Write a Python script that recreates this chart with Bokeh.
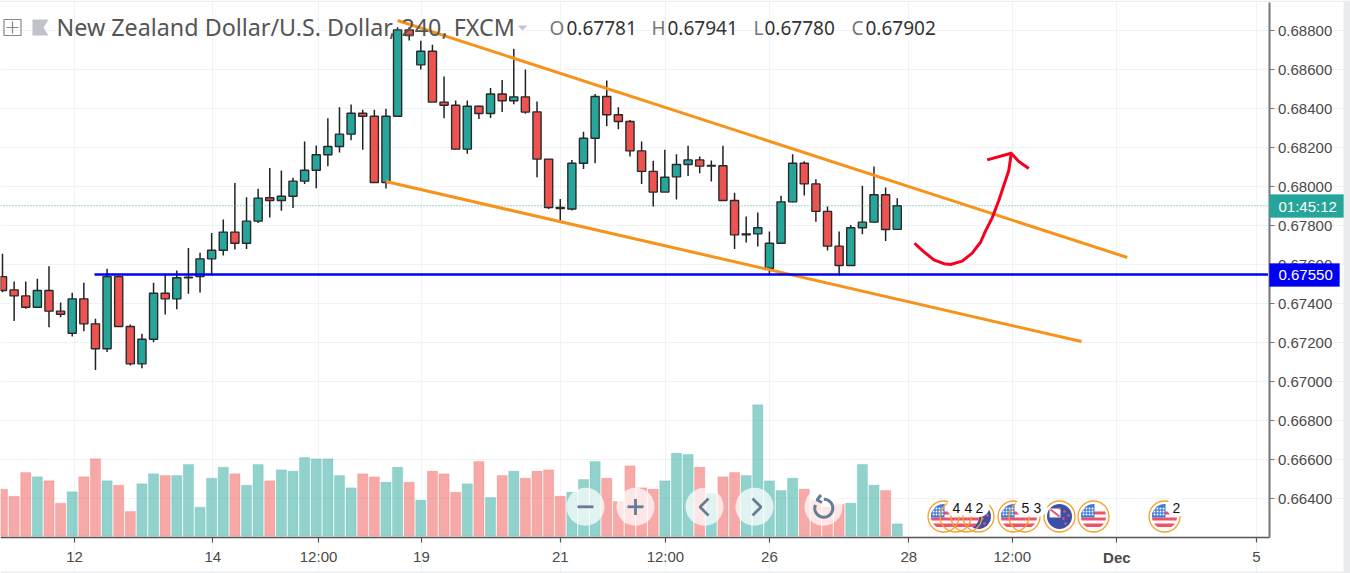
import numpy as np
from bokeh.embed import file_html
from bokeh.resources import INLINE
from bokeh.plotting import figure
from bokeh.models import Range1d, FixedTicker, Label, BoxAnnotation

# ---------- data ----------
opens = [.67539,.67471,.67440,.67382,.67468,.67362,.67249,.67425,.67297,.67169,.67539,.67283,.67092,.67218,.67454,.67425,.67533,.67539,.67630,.67674,
         .67767,.67710,.67823,.67943,.67929,.67951,.68028,.68084,.68163,.68206,.68269,.68376,.68361,.68021,.68361,.68803,.68624,.68694,.68433,.68417,
         .68192,.68412,.68375,.68475,.68440,.68460,.68383,.68141,.67893,.67885,.68120,.68248,.68462,.68368,.68334,.68183,.68078,.67972,.68050,.68113,
         .68137,.68105,.68107,.67929,.67753,.67758,.67582,.67710,.67922,.68120,.68014,.67873,.67695,.67596,.67789,.67818,.67958,.67781]
highs = [.67656,.67514,.67514,.67528,.67592,.67406,.67456,.67507,.67323,.67579,.67545,.67294,.67246,.67507,.67548,.67570,.67685,.67661,.67763,.67832,
         .68018,.67946,.67989,.68095,.68083,.68045,.68231,.68211,.68351,.68407,.68421,.68394,.68394,.68399,.68817,.68817,.68747,.68727,.68564,.68441,
         .68441,.68414,.68506,.68547,.68706,.68600,.68436,.68142,.67937,.68137,.68281,.68475,.68544,.68407,.68342,.68231,.68132,.68189,.68166,.68209,
         .68154,.68134,.68209,.67968,.67847,.67867,.67770,.67953,.68166,.68130,.68038,.67898,.67770,.67804,.68004,.68103,.67996,.67941]
lows  = [.67459,.67311,.67374,.67382,.67280,.67331,.67232,.67259,.67061,.67152,.67283,.67083,.67070,.67203,.67345,.67372,.67451,.67458,.67545,.67647,
         .67678,.67680,.67813,.67842,.67876,.67891,.68013,.67992,.68105,.68175,.68238,.68189,.68019,.67990,.68361,.68749,.68600,.68433,.68351,.68190,
         .68168,.68346,.68352,.68382,.68422,.68373,.68048,.67886,.67818,.67878,.68090,.68120,.68310,.68294,.68154,.68013,.67898,.67972,.67934,.68054,
         .68069,.68026,.67929,.67680,.67714,.67693,.67550,.67710,.67920,.67955,.67820,.67673,.67546,.67596,.67756,.67815,.67721,.67780]
closes= [.67468,.67440,.67382,.67468,.67362,.67346,.67425,.67297,.67169,.67539,.67283,.67092,.67218,.67454,.67425,.67533,.67536,.67630,.67674,.67767,
         .67710,.67823,.67941,.67929,.67951,.68028,.68084,.68163,.68206,.68269,.68376,.68361,.68021,.68361,.68803,.68774,.68694,.68433,.68417,.68192,
         .68412,.68375,.68475,.68440,.68460,.68382,.68141,.67893,.67888,.68120,.68248,.68462,.68368,.68334,.68183,.68078,.67972,.68048,.68113,.68137,
         .68105,.68108,.67929,.67753,.67758,.67789,.67710,.67922,.68120,.68014,.67873,.67695,.67596,.67789,.67818,.67958,.67780,.67902]
volumes = [141,120,191,178,166,99,133,178,232,166,153,74,157,187,182,182,215,87,174,207,187,153,215,166,199,195,236,232,232,182,145,187,178,162,207,162,108,195,187,132,
           157,224,116,182,195,174,195,199,120,132,170,224,174,104,211,145,141,166,249,245,207,128,178,191,182,394,166,137,174,141,108,87,95,99,215,153,137,37]

x_tick_pos = [6.2,18.1,27.2,36.05,48,57.05,66,78,86.9,95.9,107.9]
x_tick_txt = ["12","14","12:00","19","21","12:00","26","28","12:00","","5"]
y_tick_txt = ["0.66400","0.66600","0.66800","0.67000","0.67200","0.67400","0.67600","0.67800","0.68000","0.68200","0.68400","0.68600","0.68800"]

upper_x, upper_y = [34.0, 96.8], [0.68851, 0.67637]
lower_x, lower_y = [33.0, 92.86], [0.68026, 0.67206]
support_x, support_y = [7.92, 108.9], [0.67550, 0.67550]
curve_x = [78.49,79.15,80.15,81.01,81.58,82.59,83.45,84.17,84.59,85.17,85.74,86.17,86.60,86.81]
curve_y = [.67710,.67673,.67625,.67605,.67601,.67618,.67659,.67715,.67772,.67840,.67929,.68006,.68083,.68168]
head_x = [84.74,86.81,87.44,88.32]
head_y = [.68137,.68171,.68130,.68093]
last_price = 0.67902

# ---------- layout helpers (page pixel -> chart units) ----------
BAR_PX, X0_PX = 11.62, 2.0
PRICE_PER_PX, PRICE_Y30 = 5.124e-5, 0.688
sx = lambda px: (np.asarray(px, dtype=float) - X0_PX) / BAR_PX
sy = lambda py: PRICE_Y30 - (np.asarray(py, dtype=float) - 30.0) * PRICE_PER_PX
AX_X, AX_Y = float(sx(1268.5)), float(sy(537.3))

p = figure(width=1350, height=573, output_backend="svg", toolbar_location=None,
           x_range=Range1d(float(sx(0)), float(sx(1350))), y_range=Range1d(float(sy(573)), float(sy(0))),
           y_axis_location="right", min_border_left=0, min_border_top=0, min_border_right=0, min_border_bottom=0)
p.extra_y_ranges = {"vol": Range1d(-112, 1607)}
p.outline_line_color = None
p.background_fill_color = "#ffffff"

GRID = "#eef3f8"
TXT = "#4a4a4a"
p.xaxis.ticker = FixedTicker(ticks=x_tick_pos)
p.xaxis.major_label_overrides = dict(zip(x_tick_pos, x_tick_txt))
p.xaxis.fixed_location = AX_Y
p.xaxis.bounds = (float(sx(0)), AX_X)
y_ticks = [float(t) for t in y_tick_txt]
p.yaxis.ticker = FixedTicker(ticks=y_ticks)
p.yaxis.major_label_overrides = dict(zip(y_ticks, y_tick_txt))
p.yaxis.fixed_location = AX_X
p.yaxis.bounds = (AX_Y, float(sy(2)))
for ax, lc, lw in ((p.xaxis[0], "#555555", 1.6), (p.yaxis[0], "#777777", 2.0)):
    ax.axis_line_color = lc
    ax.axis_line_width = lw
    ax.major_tick_line_color = lc
    ax.major_tick_line_width = 1.2
    ax.major_tick_out = 5
    ax.major_tick_in = 0
    ax.minor_tick_line_color = None
    ax.major_label_text_color = TXT
    ax.major_label_text_font = "Liberation Sans"
    ax.major_label_text_font_size = "15px"
    ax.major_label_standoff = 4
p.xaxis[0].major_label_standoff = 5
p.grid.grid_line_color = GRID
p.grid.grid_line_width = 1
p.xgrid.bounds = (AX_Y, float(sy(2)))
p.ygrid.bounds = (float(sx(0)), AX_X)

# ---------- page edge ----------
EDGE = "#e9edf0"
p.add_layout(BoxAnnotation(left=float(sx(1343)), right=float(sx(1350)), top=float(sy(0)), bottom=float(sy(573)), fill_color=EDGE, fill_alpha=1, line_color=None, level="underlay"))
p.add_layout(BoxAnnotation(left=float(sx(0)), right=float(sx(1350)), top=float(sy(571)), bottom=float(sy(573)), fill_color=EDGE, fill_alpha=1, line_color=None, level="underlay"))
p.add_layout(BoxAnnotation(left=float(sx(0)), right=float(sx(1350)), top=float(sy(0)), bottom=float(sy(1.5)), fill_color=EDGE, fill_alpha=1, line_color=None, level="underlay"))

# ---------- volume ----------
idx = list(range(len(opens)))
up = [c >= o for o, c in zip(opens, closes)]
TEAL, RED = "#26a69a", "#ef5350"
vcol = [TEAL if u else RED for u in up]
p.vbar(x=idx, top=volumes, bottom=0, width=0.88, y_range_name="vol", fill_color=vcol, fill_alpha=0.5,
       line_color=vcol, line_alpha=0.18, line_width=1)

# ---------- candles ----------
p.segment(idx, highs, idx, lows, line_color="#222222", line_width=1.5)
p.vbar(x=idx, top=[max(a, b) for a, b in zip(opens, closes)], bottom=[min(a, b) for a, b in zip(opens, closes)],
       width=0.7, fill_color=vcol, line_color="#2a2a2a", line_width=1.4)

# ---------- drawings ----------
p.line([float(sx(0)), AX_X], [last_price, last_price], line_color=TEAL, line_width=1, line_dash="1 2", line_alpha=0.9)
p.line(upper_x, upper_y, line_color="#f7931a", line_width=3)
p.line(lower_x, lower_y, line_color="#f7931a", line_width=3)
p.line(support_x, support_y, line_color="#0000f0", line_width=2.4)
p.line(curve_x, curve_y, line_color="#f5001e", line_width=3, line_join="round")
p.line(head_x, head_y, line_color="#f5001e", line_width=3, line_join="round")

# ---------- zoom buttons ----------
BTN = "#667b94"
p.scatter(sx([585, 635, 704, 754, 823]), sy([506.3]*5), size=38, marker="circle", fill_color="#ffffff", fill_alpha=0.72, line_color=None)
p.line(sx([577, 593]), sy([506.3, 506.3]), line_color=BTN, line_width=2.8)
p.line(sx([627, 643]), sy([506.3, 506.3]), line_color=BTN, line_width=2.8)
p.line(sx([635, 635]), sy([498.5, 514.5]), line_color=BTN, line_width=2.8)
p.line(sx([708, 699.5, 708]), sy([498, 506.5, 515]), line_color=BTN, line_width=2.8)
p.line(sx([752, 760.5, 752]), sy([498, 506.5, 515]), line_color=BTN, line_width=2.8)
th = np.linspace(-np.pi/2, 1.12*np.pi, 50)
p.line(sx(823.3 + 9*np.cos(th)), sy(507.7 + 9*np.sin(th)), line_color=BTN, line_width=3)
p.line(sx([820.5, 816.5, 821.5]), sy([494.5, 499.5, 502]), line_color=BTN, line_width=3)

# ---------- event flags ----------
FLAG_Y = 516.0

def band(cx, cy, r, y1, y2):
    ys = np.linspace(y1, y2, 8)
    w = np.sqrt(np.maximum(r*r - ys*ys, 0))
    return sx(np.r_[cx - w, (cx + w)[::-1]]), sy(cy + np.r_[ys, ys[::-1]])

def us_flag(cx, cy=FLAG_Y, r=12.5):
    p.scatter(sx([cx]), sy([cy]), size=2*r, marker="circle", fill_color="#ffffff", line_color=None)
    for y1, y2 in ((-5, -2), (1, 4), (7, 10.5)):
        xs, ys = band(cx, cy, r, y1, y2)
        p.patch(xs, ys, fill_color="#ee5266", line_color=None)
    ang = np.linspace(np.pi, 1.5*np.pi, 12)
    cxs = np.r_[cx + r*np.cos(ang), cx + 1, cx + 1, cx - r]
    cys = np.r_[cy + r*np.sin(ang), cy - r, cy + 1, cy + 1]
    p.patch(sx(cxs), sy(cys), fill_color="#3c7ad6", line_color=None)
    gx, gy = np.meshgrid(np.arange(-10, 1, 3.0), np.arange(-8, 1, 3.0))
    p.scatter(sx(cx + gx.ravel()), sy(cy + gy.ravel()), size=1.8, marker="square", fill_color="#ffffff", line_color=None)

def nz_flag(cx, cy=FLAG_Y, r=12.5):
    p.scatter(sx([cx]), sy([cy]), size=2*r, marker="circle", fill_color="#3b4fa5", line_color=None)
    p.patch(sx([cx-10, cx+1, cx+1, cx-10]), sy([cy-8, cy-8, cy+1, cy+1]), fill_color="#ffffff", line_color=None)
    p.line(sx([cx-9, cx]), sy([cy-7, cy]), line_color="#ee5266", line_width=2)
    p.line(sx([cx-1, cx+1]), sy([cy-8, cy-8]), line_color="#ee5266", line_width=2)
    p.scatter(sx([cx+5, cx+9, cx+4, cx+6]), sy([cy-5, cy-1, cy+2, cy+7]), size=2.6, marker="circle", fill_color="#ee5266", line_color=None)

nz_flag(978); us_flag(966); us_flag(955); us_flag(943)
us_flag(1024); us_flag(1013)
nz_flag(1059); us_flag(1093); us_flag(1164)

ring_cx = [943, 955, 966, 978, 1013, 1024, 1059, 1093, 1164]
p.scatter(sx(ring_cx), sy([FLAG_Y]*len(ring_cx)), size=31, marker="circle", fill_color="#ffffff", fill_alpha=0.0,
          line_color="#f9a02c", line_width=1.3)

num_cx = [956, 968, 979, 1025, 1037, 1176]
num_txt = ["4", "4", "2", "5", "3", "2"]
p.scatter(sx(num_cx), sy([506.5]*6), size=20, marker="circle", fill_color="#ffffff", line_color=None)
for cx, t in zip(num_cx, num_txt):
    p.add_layout(Label(x=float(sx(cx)), y=float(sy(507)), text=t, text_align="center", text_baseline="middle",
                       text_font="Liberation Sans", text_font_size="14px", text_color="#111111"))

# ---------- header ----------
HEAD = "Noto Sans"
p.add_layout(Label(x=float(sx(56)), y=float(sy(26)), text="New Zealand Dollar/U.S. Dollar, 240, FXCM",
                   text_font=HEAD, text_font_size="23.3px", text_color="#555555", text_baseline="middle"))
for lx, letter, nx, num in ((549, "O", 566, "0.67781"), (651, "H", 667, "0.67941"), (753, "L", 764, "0.67780"), (851, "C", 865, "0.67902")):
    p.add_layout(Label(x=float(sx(lx)), y=float(sy(27.5)), text=letter, text_font=HEAD, text_font_size="19px",
                       text_color="#777777", text_baseline="middle"))
    p.add_layout(Label(x=float(sx(nx)), y=float(sy(27.5)), text=num, text_font=HEAD, text_font_size="19px",
                       text_color="#333333", text_baseline="middle"))
p.patch(sx([517, 527, 522]), sy([25, 25, 30]), fill_color="#c8c8c8", line_color=None)
p.patch(sx([32, 48, 43, 48, 32]), sy([19, 19, 27, 35, 35]), fill_color="#c0c3cc", line_color=None)
p.line(sx([3.5, 20.5, 20.5, 3.5, 3.5]), sy([19, 19, 35, 35, 19]), line_color="#888888", line_width=1.2)
p.line(sx([6, 18]), sy([27, 27]), line_color="#888888", line_width=1.2)
p.line(sx([12, 12]), sy([21, 33]), line_color="#888888", line_width=1.2)

# ---------- Dec + price tags ----------
p.add_layout(Label(x=95.9, y=float(sy(556.5)), text="Dec", text_align="center", text_baseline="middle",
                   text_font="Liberation Sans", text_font_size="15px", text_font_style="bold", text_color=TXT))
for top, bottom, right, col, txt in ((194, 217, 1343, TEAL, "01:45:12"), (263, 286, 1339, "#0000f5", "0.67550")):
    p.add_layout(BoxAnnotation(left=float(sx(1269)), right=float(sx(right)), top=float(sy(top)), bottom=float(sy(bottom)),
                               fill_color=col, fill_alpha=1.0, line_color=col, level="annotation"))
    p.add_layout(Label(x=float(sx(1278)), y=float(sy((top+bottom)/2)), text=txt, text_baseline="middle",
                       text_font="Liberation Sans", text_font_size="15px", text_color="#ffffff", level="overlay"))

open("out.html", "w").write(file_html(p, INLINE))
